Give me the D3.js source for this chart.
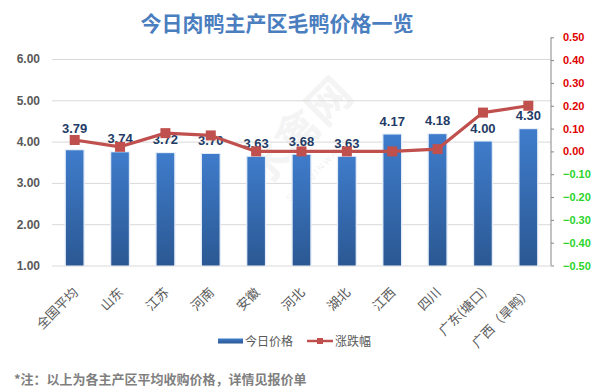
<!DOCTYPE html>
<html>
<head>
<meta charset="utf-8">
<script src="https://cdn.jsdelivr.net/npm/d3@7"></script>
<style>
	html, body { margin: 0; padding: 0; background: #ffffff; }
	svg { display: block; }
	text { font-family: "Noto Sans CJK SC", "Liberation Sans", sans-serif; }
	.num { font-family: "Liberation Sans", Arial, sans-serif; }
</style>
</head>
<body>
<div id="chart"></div>
<script>
var categories = ["全国平均", "山东", "江苏", "河南", "安徽", "河北", "湖北", "江西", "四川", "广东(塘口)", "广西（旱鸭）"];
var prices = [3.79, 3.74, 3.72, 3.70, 3.63, 3.68, 3.63, 4.17, 4.18, 4.00, 4.30];
var changes = [0.05, 0.02, 0.08, 0.07, 0.00, 0.00, 0.00, 0.00, 0.01, 0.17, 0.20];
var leftTicks = [1, 2, 3, 4, 5, 6];
var rightTicks = [-0.5, -0.4, -0.3, -0.2, -0.1, 0, 0.1, 0.2, 0.3, 0.4, 0.5];
var titleText = "今日肉鸭主产区毛鸭价格一览";
var noteText = "*注：以上为各主产区平均收购价格，详情见报价单";
var legendNames = ["今日价格", "涨跌幅"];

var width = 593;
var height = 389;
var plot = {left: 52, right: 551, top: 59, bottom: 265.5, rtop: 37.3};

var lineColor = "#c0504d";
var barTop = "#3f7ccb";
var barBottom = "#2b5893";

var svg = d3.select("#chart").append("svg")
	.attr("width", width)
	.attr("height", height);

var defs = svg.append("defs");
var grad = defs.append("linearGradient")
	.attr("id", "barGrad")
	.attr("x1", 0).attr("y1", 0)
	.attr("x2", 0).attr("y2", 1);
grad.append("stop").attr("offset", "0%").attr("stop-color", barTop);
grad.append("stop").attr("offset", "100%").attr("stop-color", barBottom);

var x = d3.scaleBand()
	.domain(categories)
	.range([plot.left, plot.right])
	.paddingInner(0.6)
	.paddingOuter(0.3);
var y = d3.scaleLinear()
	.domain([1, 6])
	.range([plot.bottom, plot.top]);
var y2 = d3.scaleLinear()
	.domain([-0.5, 0.5])
	.range([plot.bottom, plot.rtop]);

// title
svg.append("text")
	.text(titleText)
	.attr("x", 277)
	.attr("y", 31)
	.style("text-anchor", "middle")
	.style("font-size", "21px")
	.style("font-weight", "bold")
	.style("fill", "#4a7ebf");

// watermark
svg.append("text")
	.text("水禽网")
	.attr("transform", "translate(262,190) rotate(-45)")
	.style("font-size", "44px")
	.style("font-weight", "bold")
	.style("fill", "#000")
	.style("opacity", 0.04);
svg.append("text")
	.text("SHUIQINWANG")
	.attr("transform", "translate(290,202) rotate(-45)")
	.attr("class", "num")
	.style("font-size", "9px")
	.style("letter-spacing", "2px")
	.style("fill", "#000")
	.style("opacity", 0.06);

// gridlines + left axis
var yAxis = d3.axisLeft(y)
	.tickValues(leftTicks)
	.tickSize(-(plot.right - plot.left))
	.tickPadding(12)
	.tickFormat(d3.format(".2f"));
var gy = svg.append("g")
	.attr("transform", "translate(" + plot.left + ",0)")
	.call(yAxis);
gy.select(".domain").remove();
gy.selectAll(".tick line")
	.attr("stroke", "#d9d9d9")
	.attr("stroke-width", 1);
gy.selectAll(".tick text")
	.attr("class", "num")
	.style("font-size", "12px")
	.style("font-weight", "bold")
	.style("fill", "#595959");

// right axis
var yAxisR = d3.axisRight(y2)
	.tickValues(rightTicks)
	.tickSize(3)
	.tickPadding(9)
	.tickFormat(d3.format(".2f"));
var gr = svg.append("g")
	.attr("transform", "translate(" + plot.right + ",0)")
	.call(yAxisR);
gr.select(".domain")
	.attr("stroke", "#868686")
	.attr("d", "M0," + plot.rtop + "V" + plot.bottom);
gr.selectAll(".tick line").attr("stroke", "#868686");
gr.selectAll(".tick text")
	.attr("class", "num")
	.style("font-size", "11px")
	.style("font-weight", "bold")
	.style("fill", function(d) { return d < 0 ? "#2bd42b" : "#e00000"; });

// bars
var bw = x.bandwidth();
svg.append("g").selectAll("rect")
	.data(prices)
	.enter().append("rect")
	.attr("x", function(d, i) { return x(categories[i]) - 1; })
	.attr("y", function(d) { return y(d) - 1; })
	.attr("width", bw + 2)
	.attr("height", function(d) { return y(1) - y(d) + 1; })
	.attr("fill", "#e2ebf7");
svg.append("g").selectAll("rect")
	.data(prices)
	.enter().append("rect")
	.attr("x", function(d, i) { return x(categories[i]) + 0.3; })
	.attr("y", function(d) { return y(d); })
	.attr("width", bw - 0.6)
	.attr("height", function(d) { return y(1) - y(d); })
	.attr("fill", "url(#barGrad)");

// bar labels (lifted above the marker when it would sit on the text)
svg.append("g").selectAll("text")
	.data(prices)
	.enter().append("text")
	.attr("class", "num")
	.text(function(d) { return d.toFixed(2); })
	.attr("x", function(d, i) { return x(categories[i]) + bw / 2; })
	.attr("y", function(d, i) {
		var ly = y(d) - 9;
		var my = y2(changes[i]);
		if(Math.abs(my - (ly - 5)) < 4) ly = my - 7;
		return ly;
	})
	.style("text-anchor", "middle")
	.style("font-size", "13px")
	.style("font-weight", "bold")
	.style("fill", "#1f3b66");

// change line
var line = d3.line()
	.x(function(d, i) { return x(categories[i]) + bw / 2; })
	.y(function(d) { return y2(d); });
svg.append("path")
	.datum(changes)
	.attr("d", line)
	.attr("fill", "none")
	.attr("stroke", lineColor)
	.attr("stroke-width", 3.2)
	.attr("stroke-linejoin", "round");
var ms = 10;
svg.append("g").selectAll("rect")
	.data(changes)
	.enter().append("rect")
	.attr("x", function(d, i) { return x(categories[i]) + bw / 2 - ms / 2; })
	.attr("y", function(d) { return y2(d) - ms / 2; })
	.attr("width", ms)
	.attr("height", ms)
	.attr("fill", lineColor);

// category labels
svg.append("g").selectAll("text")
	.data(categories)
	.enter().append("text")
	.text(function(d) { return d; })
	.attr("transform", function(d) {
		return "translate(" + (x(d) + bw / 2 + 1) + "," + 290 + ") rotate(-45)";
	})
	.attr("dy", "0.35em")
	.style("text-anchor", "end")
	.style("font-size", "13px")
	.style("fill", "#595959");

// legend
var legend = svg.append("g");
legend.append("rect")
	.attr("x", 218)
	.attr("y", 338.5)
	.attr("width", 25)
	.attr("height", 5)
	.attr("fill", "url(#barGrad)");
legend.append("text")
	.text(legendNames[0])
	.attr("x", 245)
	.attr("y", 345.5)
	.style("font-size", "12px")
	.style("fill", "#595959");
legend.append("line")
	.attr("x1", 307).attr("x2", 333)
	.attr("y1", 341).attr("y2", 341)
	.attr("stroke", lineColor)
	.attr("stroke-width", 2.5);
legend.append("rect")
	.attr("x", 317).attr("y", 338)
	.attr("width", 6).attr("height", 6)
	.attr("fill", lineColor);
legend.append("text")
	.text(legendNames[1])
	.attr("x", 335)
	.attr("y", 345.5)
	.style("font-size", "12px")
	.style("fill", "#595959");

// footnote
svg.append("text")
	.text(noteText)
	.attr("x", 14)
	.attr("y", 384)
	.style("font-size", "13px")
	.style("font-weight", "bold")
	.style("fill", "#7f7f7f");
</script>
</body>
</html>
